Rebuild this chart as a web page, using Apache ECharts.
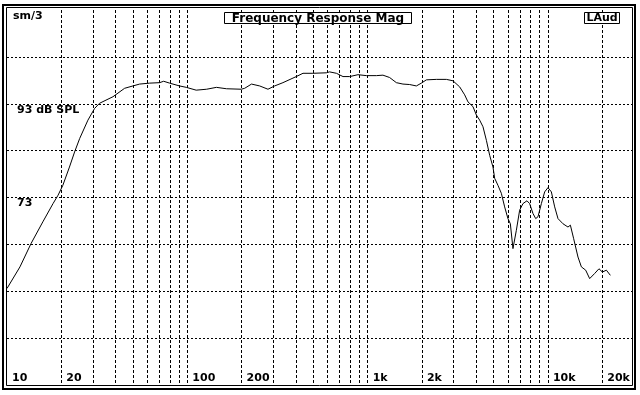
<!DOCTYPE html>
<html>
<head>
<meta charset="utf-8">
<script src="https://cdn.jsdelivr.net/npm/echarts@6.0.0/dist/echarts.min.js"></script>
<style>
html,body{margin:0;padding:0;background:#fff;}
#chart{width:640px;height:395px;}
</style>
</head>
<body>
<div id="chart"></div>
<script>
// Frequency (Hz) and SPL (dB)
const freqHz = [10, 11.8, 13.6, 15.8, 18, 19.2, 20.4, 22.2, 23.7, 25.3, 28.1, 30.6, 32.6, 38.7, 44.9, 49.9, 54.4, 61.8, 70.2, 73.9,
  79.8, 90.6, 98.7, 112, 128, 145, 165, 199, 208, 227, 252, 280, 305, 339, 402, 438, 497, 590, 615, 671,
  730, 795, 884, 984, 1118, 1216, 1324, 1443, 1570, 1710, 1863, 1985, 2117, 2404, 2733, 2973, 3238, 3452, 3601, 3837,
  4008, 4181, 4361, 4555, 4751, 4955, 5063, 5281, 5513, 5751, 5999, 6186, 6396, 6678, 6966, 7266, 7646, 7915, 8257, 8550,
  8804, 9192, 9588, 10000, 10445, 10895, 11365, 12112, 12912, 13314, 13887, 14674, 15321, 16186, 17032, 18160, 19183, 20036, 21086, 22187];
const splDb = [53.6, 58.2, 63.2, 67.8, 71.7, 73.5, 75.6, 79.5, 82.7, 85.6, 89.5, 92.0, 93.1, 94.5, 96.3, 96.8, 97.2, 97.4, 97.5, 97.8,
  97.4, 96.8, 96.5, 95.9, 96.1, 96.5, 96.2, 96.1, 96.3, 97.2, 96.8, 96.1, 96.8, 97.5, 98.8, 99.5, 99.5, 99.6, 99.8, 99.5,
  98.8, 98.8, 99.2, 99.0, 99.0, 99.1, 98.6, 97.5, 97.2, 97.1, 96.8, 97.4, 98.1, 98.2, 98.2, 97.9, 96.6, 94.9, 93.4, 92.4,
  90.6, 89.5, 88.1, 85.2, 82.0, 79.5, 77.1, 75.6, 73.9, 71.0, 68.5, 67.4, 62.1, 66.0, 70.3, 71.7, 72.3, 71.7, 69.6, 68.5,
  68.9, 71.7, 74.2, 75.1, 74.2, 71.0, 68.5, 67.4, 66.7, 67.1, 64.2, 60.3, 58.2, 57.5, 55.7, 56.8, 57.8, 57.1, 57.5, 56.4];

// Axis grid / tick labels
const xGridHz = [20, 30, 40, 50, 60, 70, 80, 90, 100, 200, 300, 400, 500, 600, 700, 800, 900,
  1000, 2000, 3000, 4000, 5000, 6000, 7000, 8000, 9000, 10000, 20000];
const xLabelHz = [10, 20, 100, 200, 1000, 2000, 10000, 20000];
const xLabelText = ['10', '20', '100', '200', '1k', '2k', '10k', '20k'];
const yLabelDb = [93, 73];
const yLabelText = ['93 dB SPL', '73'];

const FONT = '"DejaVu Sans", sans-serif';
const chart = echarts.init(document.getElementById('chart'), null, {renderer: 'canvas'});

chart.setOption({
  backgroundColor: '#fff',
  animation: false,
  grid: {left: 7, top: 10, width: 627, height: 375, containLabel: false},
  xAxis: {
    type: 'log', logBase: 10, min: 10, max: 30000,
    axisLine: {show: false},
    axisTick: {show: false, customValues: xGridHz},
    splitLine: {show: true, lineStyle: {color: '#000', width: 1, type: [3, 2]}},
    minorTick: {show: false}, minorSplitLine: {show: false},
    axisLabel: {
      show: true, inside: true, customValues: xLabelHz,
      formatter: v => { const i = xLabelHz.findIndex(h => Math.abs(h - v) < 1e-6 * h); return i >= 0 ? xLabelText[i] : ''; },
      align: 'left', verticalAlign: 'bottom', margin: 1, padding: [0, 0, 0, 5],
      color: '#000', fontFamily: FONT, fontWeight: 'bold', fontSize: 11, hideOverlap: false
    }
  },
  yAxis: {
    type: 'value', min: 33, max: 113, interval: 10,
    axisLine: {show: false}, axisTick: {show: false},
    splitLine: {show: true, showMinLine: false, showMaxLine: false, lineStyle: {color: '#000', width: 1, type: [2, 2]}},
    axisLabel: {
      show: true, inside: true, customValues: yLabelDb,
      formatter: v => { const i = yLabelDb.indexOf(Math.round(v)); return i >= 0 ? yLabelText[i] : ''; },
      align: 'left', verticalAlign: 'top', margin: 10, lineHeight: 12,
      color: '#000', fontFamily: FONT, fontWeight: 'bold', fontSize: 11
    }
  },
  series: [{
    type: 'line',
    data: freqHz.map((f, i) => [f, splDb[i]]),
    showSymbol: false, symbol: 'none', smooth: false,
    lineStyle: {color: '#000', width: 1},
    z: 5
  }],
  graphic: [
    {type: 'rect', z: 100, shape: {x: 3, y: 5, width: 632, height: 384}, style: {fill: 'none', stroke: '#000', lineWidth: 2}},
    {type: 'rect', z: 100, shape: {x: 6.5, y: 7.5, width: 626, height: 378}, style: {fill: 'none', stroke: '#000', lineWidth: 1}},
    {type: 'text', z: 100, x: 13, y: 16.5, style: {text: 'sm/3', font: 'bold 11px ' + FONT, fill: '#000', textVerticalAlign: 'middle'}},
    {type: 'rect', z: 100, shape: {x: 224.5, y: 12.5, width: 187, height: 11}, style: {fill: '#fff', stroke: '#000', lineWidth: 1}},
    {type: 'text', z: 101, x: 318, y: 18.5, style: {text: 'Frequency Response Mag', font: 'bold 12px ' + FONT, fill: '#000', textAlign: 'center', textVerticalAlign: 'middle'}},
    {type: 'rect', z: 100, shape: {x: 584.5, y: 12.5, width: 35, height: 11}, style: {fill: '#fff', stroke: '#000', lineWidth: 1}},
    {type: 'text', z: 101, x: 602, y: 18.5, style: {text: 'LAud', font: 'bold 11px ' + FONT, fill: '#000', textAlign: 'center', textVerticalAlign: 'middle'}}
  ]
});
</script>
</body>
</html>
